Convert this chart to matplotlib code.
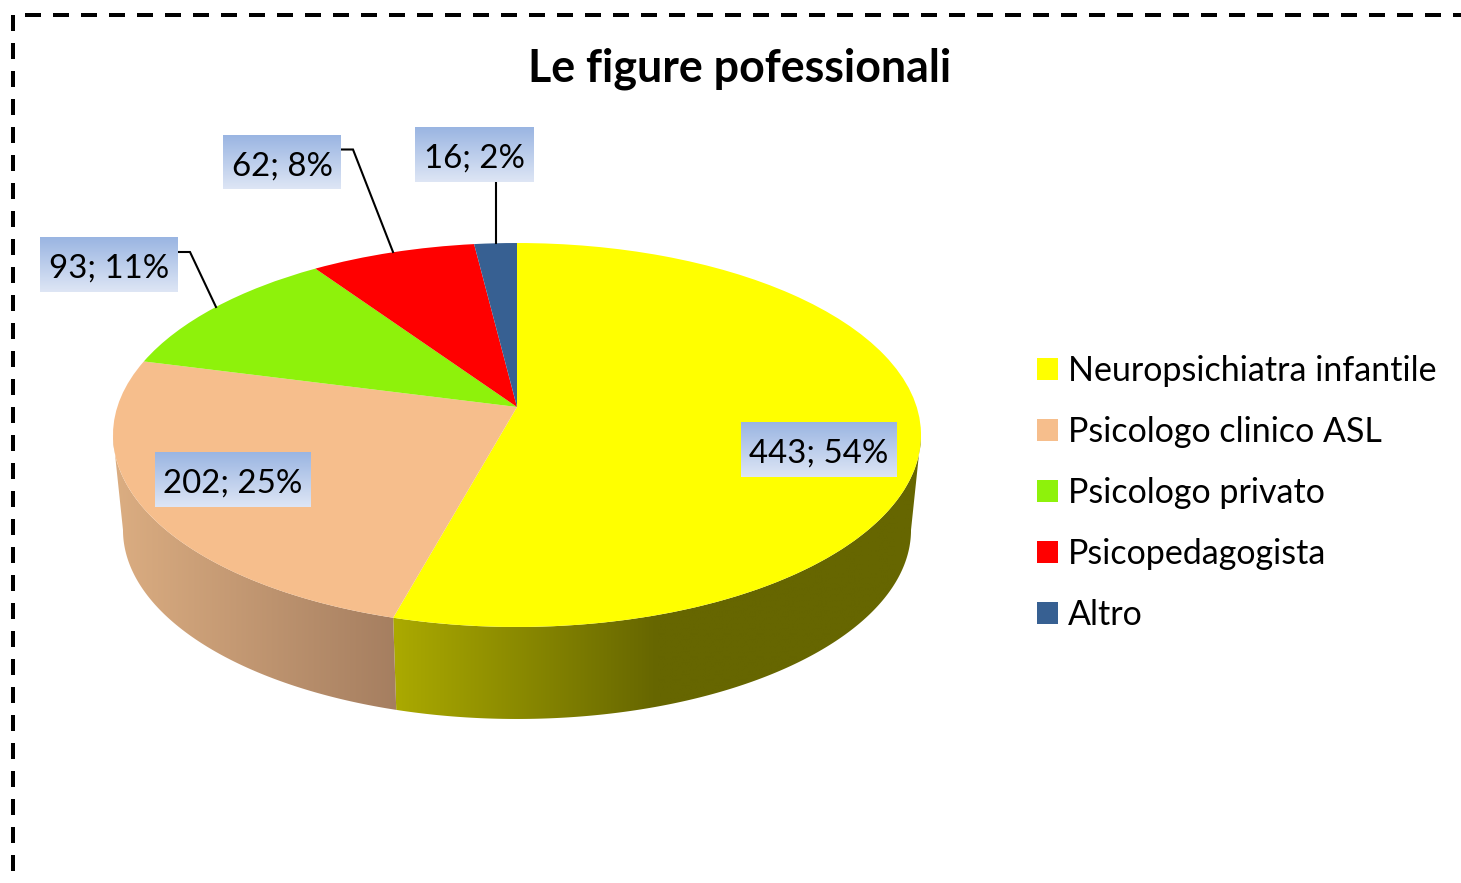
import matplotlib
matplotlib.use("Agg")
import matplotlib.pyplot as plt
import numpy as np
from matplotlib.colors import LinearSegmentedColormap
from matplotlib.patches import Polygon
from matplotlib.transforms import Transform

# Data
categories = ["Neuropsichiatra infantile", "Psicologo clinico ASL", "Psicologo privato",
              "Psicopedagogista", "Altro"]
values = [443, 202, 93, 62, 16]
title = "Le figure pofessionali"

colors = ["#FFFF00", "#F6BE8C", "#8EF20B", "#FF0000", "#376092"]

FONT = "Lato"
LABEL_SIZE = 23.8
LEGEND_SIZE = 24.5

# pie geometry in pixels (tilted disc, so centre is not in the middle of the ellipse)
K = 0.1458
TOP = (517, 407, 399.7, 187.9)
BOTTOM = (517, 502.4, 389.8, 185.0)

# label boxes: x0, y0, x1, y1 in pixels, same order as values
label_boxes = [(741, 422, 897, 477), (155, 452, 311, 507), (40, 237, 178, 292),
               (223, 135, 341, 189), (415, 127, 534, 182)]
leaders = [[(178, 252), (190, 252), (216, 307)],
           [(341, 149.5), (353, 149.5), (393, 252)],
           [(495.5, 182), (495.5, 243)]]


class Tilt(Transform):
    input_dims = 2
    output_dims = 2
    is_separable = False
    has_inverse = False

    def __init__(self, geom):
        super().__init__()
        self.geom = geom

    def transform_non_affine(self, values):
        pts = np.asarray(values, dtype=float)
        cx, cy, a, b = self.geom
        w = 1 + K * pts[:, 1]
        return np.column_stack([cx + a * pts[:, 0] / w, cy - b * pts[:, 1] / w])


def rim(geom, ang1, ang2):
    # points of the disc edge, angles clockwise from the top
    t = np.radians(np.linspace(ang1, ang2, 200))
    return Tilt(geom).transform_non_affine(np.column_stack([np.sin(t), np.cos(t)]))


def gradient(ax, extent, stops, clip=None, vertical=False, zorder=1):
    cmap = LinearSegmentedColormap.from_list("g", stops)
    g = np.linspace(0, 1, 256)
    g = g.reshape(-1, 1) if vertical else g.reshape(1, -1)
    im = ax.imshow(g, cmap=cmap, extent=extent, aspect="auto", zorder=zorder,
                   interpolation="bilinear", vmin=0, vmax=1)
    if clip is not None:
        im.set_clip_path(Polygon(clip, transform=ax.transData))
    return im


fig = plt.figure(figsize=(14.61, 8.83), dpi=100)
ax = fig.add_axes([0, 0, 1, 1])

# --- Side wall ---
edge = np.degrees(np.arccos(-K))
ends = np.cumsum(values) / sum(values) * 360
yellow_wall = np.vstack([rim(TOP, edge, ends[0]), rim(BOTTOM, ends[0], edge)])
peach_wall = np.vstack([rim(TOP, ends[0], 360 - edge), rim(BOTTOM, 360 - edge, ends[0])])
split = rim(TOP, ends[0], ends[0])[0, 0]
gradient(ax, (split, 921, 725, 430),
         [(0, "#ABAA00"), (0.5, "#666600"), (1, "#666600")], clip=yellow_wall)
gradient(ax, (110, split + 4, 725, 430),
         [(0, "#DCAE82"), (1, "#A57E60")], clip=peach_wall)

# --- Top of the pie ---
wedges, _ = ax.pie(values, colors=colors, startangle=90, counterclock=False,
                   wedgeprops={"transform": Tilt(TOP) + ax.transData, "linewidth": 0,
                               "zorder": 2})

# --- Leader lines ---
for line in leaders:
    ax.plot(*zip(*line), color="black", lw=1.5, zorder=3, solid_joinstyle="miter")

# --- Value labels ---
total = sum(values)
for v, (x0, y0, x1, y1) in zip(values, label_boxes):
    gradient(ax, (x0, x1, y1, y0), [(0, "#9AB5E2"), (1, "#DEE6F5")], vertical=True, zorder=4)
    ax.text((x0 + x1) / 2, y0 + 41, f"{v}; {v / total * 100:.0f}%", ha="center",
            va="baseline", fontsize=LABEL_SIZE, family=FONT, color="black", zorder=5)

ax.text(740, 82, title, ha="center", va="baseline", fontsize=32.2, fontweight="bold",
        family=FONT, color="black")

# --- Dashed border ---
ax.plot([25, 1461], [15, 15], color="black", lw=2.88, linestyle=(0, (4, 3)),
        dash_capstyle="butt", zorder=1)
ax.plot([13, 13], [15, 883], color="black", lw=2.88, linestyle=(0, (4, 3)),
        dash_capstyle="butt", zorder=1)

ax.set_aspect("auto")
ax.set_xlim(0, 1461)
ax.set_ylim(883, 0)
ax.set_axis_off()

leg = ax.legend(wedges, categories, loc="center left", bbox_to_anchor=(1037, 493),
                bbox_transform=ax.transData, frameon=False, borderpad=0, borderaxespad=0,
                handlelength=0.62, handleheight=0.62, handletextpad=0.3, labelspacing=0.858,
                prop={"family": FONT, "size": LEGEND_SIZE})

fig.savefig("out.png", dpi=100, facecolor="white")
